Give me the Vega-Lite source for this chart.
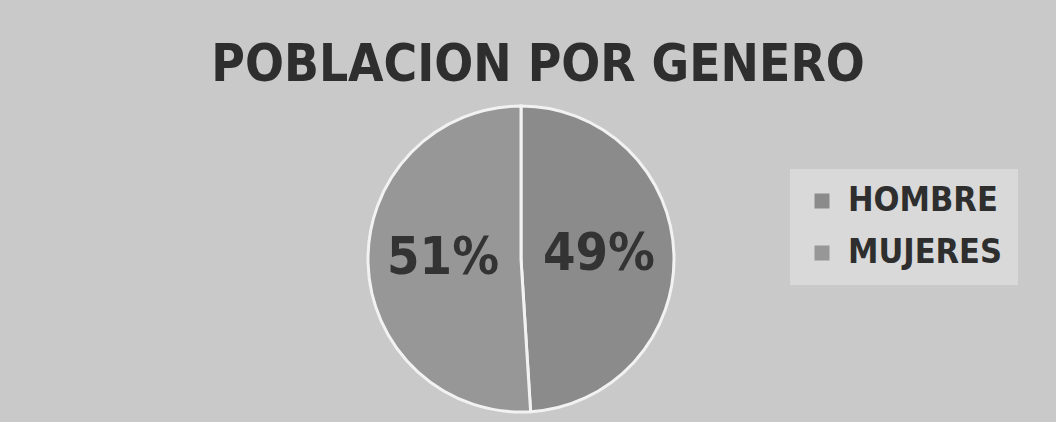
{
  "$schema": "https://vega.github.io/schema/vega-lite/v6.json",
  "width": 1056,
  "height": 422,
  "autosize": {"type": "fit", "contains": "padding"},
  "padding": {"left": 0, "right": 14, "top": 40, "bottom": 0},
  "background": "#c9c9c9",
  "view": {"stroke": null},
  "title": {
    "text": "POBLACION POR GENERO",
    "font": "DejaVu Sans Condensed",
    "fontWeight": "bold",
    "fontSize": 51,
    "color": "#2e2e2e",
    "anchor": "middle",
    "offset": 4,
    "dx": 17
  },
  "data": {
    "values": [
      {"genero": "HOMBRE", "valor": 49, "etiqueta": "49%"},
      {"genero": "MUJERES", "valor": 51, "etiqueta": "51%"}
    ]
  },
  "encoding": {
    "theta": {"field": "valor", "type": "quantitative", "stack": true},
    "color": {
      "field": "genero",
      "type": "nominal",
      "scale": {"domain": ["HOMBRE", "MUJERES"], "range": ["#8b8b8b", "#979797"]},
      "legend": {
        "title": null,
        "orient": "none",
        "legendX": 790,
        "legendY": 73,
        "fillColor": "#d9d9d9",
        "padding": 15,
        "symbolType": "square",
        "symbolSize": 225,
        "symbolStrokeWidth": 0,
        "labelFont": "DejaVu Sans Condensed",
        "labelFontWeight": "bold",
        "labelFontSize": 34,
        "labelColor": "#2e2e2e",
        "labelOffset": 9,
        "rowPadding": 18,
        "labelLimit": 300
      }
    }
  },
  "layer": [
    {
      "mark": {"type": "arc", "outerRadius": 153, "stroke": "#f2f2f2", "strokeWidth": 3}
    },
    {
      "mark": {
        "type": "text",
        "radius": 78,
        "dy": -3,
        "font": "DejaVu Sans Condensed",
        "fontWeight": "bold",
        "fontSize": 52,
        "fill": "#333333"
      },
      "encoding": {
        "text": {"field": "etiqueta", "type": "nominal"},
        "color": {"value": "#333333"}
      }
    }
  ]
}
